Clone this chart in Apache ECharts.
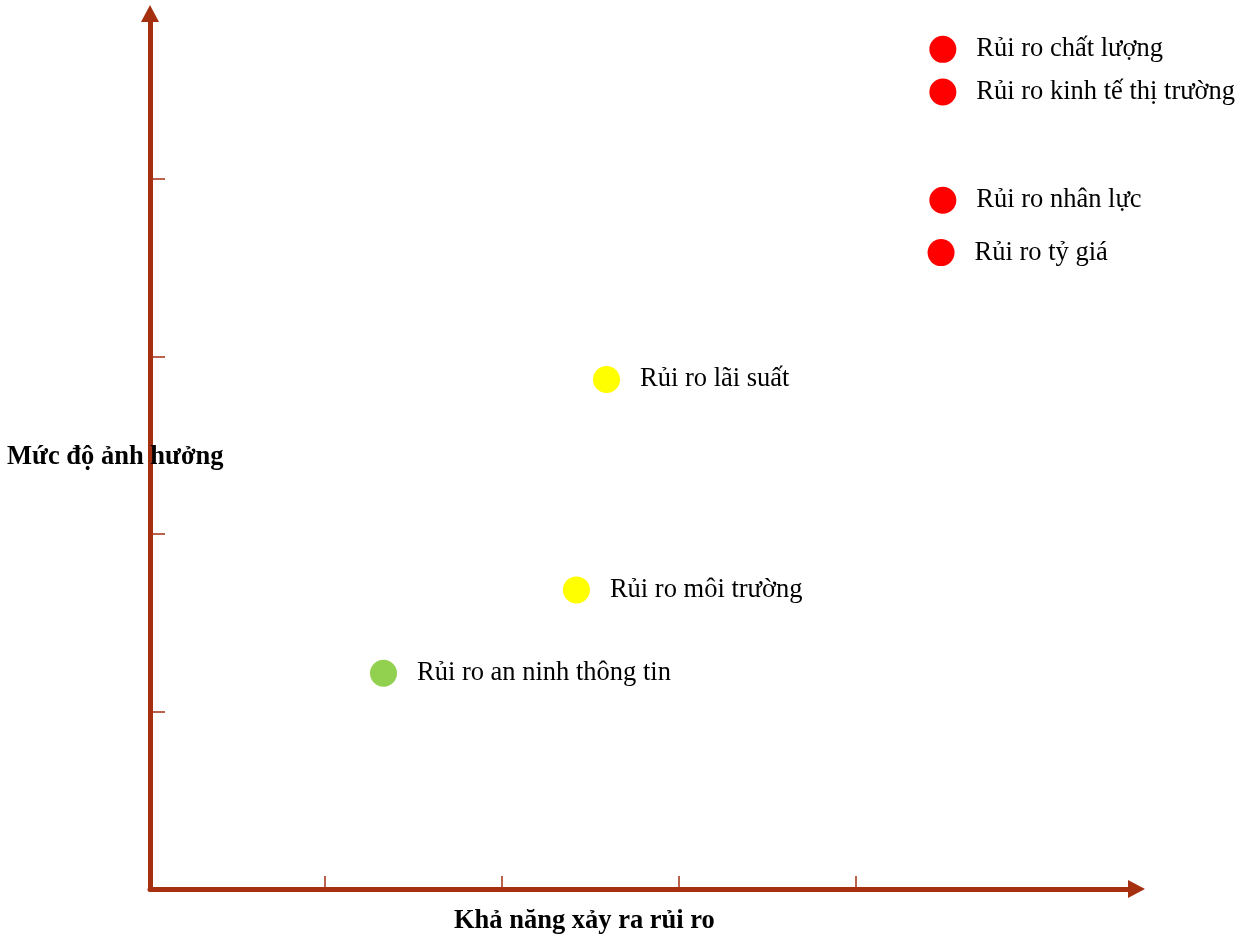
<!DOCTYPE html>
<html>
<head>
<meta charset="utf-8">
<script src="https://cdn.jsdelivr.net/npm/echarts@6/dist/echarts.min.js"></script>
<style>
html,body{margin:0;padding:0;background:#fff;}
#chart{width:1242px;height:937px;}
</style>
</head>
<body>
<div id="chart"></div>
<script>
// Data
const risks = ['Rủi ro chất lượng', 'Rủi ro kinh tế thị trường', 'Rủi ro nhân lực', 'Rủi ro tỷ giá',
               'Rủi ro lãi suất', 'Rủi ro môi trường', 'Rủi ro an ninh thông tin'];
const likelihood = [4.49, 4.49, 4.49, 4.48, 2.59, 2.42, 1.33];
const impact     = [4.73, 4.49, 3.88, 3.585, 2.87, 1.685, 1.215];
const levels     = ['high', 'high', 'high', 'high', 'medium', 'medium', 'low'];
const tickValues = [1, 2, 3, 4];
const xTitle = 'Khả năng xảy ra rủi ro';
const yTitle = 'Mức độ ảnh hưởng';

const levelColors = { high: '#FF0000', medium: '#FFFF00', low: '#92D050' };
const axisColor = '#A5300F';
const serif = '"Liberation Serif", "Times New Roman", serif';

const points = risks.map((name, i) => ({
  name: name,
  value: [likelihood[i], impact[i]],
  itemStyle: { color: levelColors[levels[i]], opacity: 1 }
}));

const chart = echarts.init(document.getElementById('chart'), null, { renderer: 'canvas' });
chart.setOption({
  backgroundColor: '#ffffff',
  animation: false,
  grid: { left: 150, right: 105.5, top: 13.5, bottom: 48, containLabel: false },
  xAxis: {
    type: 'value', min: 0.011, max: 5.584,
    splitLine: { show: false },
    axisLine: { show: true, onZero: false, lineStyle: { color: axisColor, width: 5 },
                symbol: ['none', 'triangle'], symbolSize: [18, 17] },
    axisTick: { show: true, inside: true, length: 13, customValues: tickValues,
                lineStyle: { color: axisColor, width: 1.5 } },
    axisLabel: { show: false }
  },
  yAxis: {
    type: 'value', min: 0, max: 4.932,
    splitLine: { show: false },
    axisLine: { show: true, onZero: false, lineStyle: { color: axisColor, width: 5 },
                symbol: ['none', 'triangle'], symbolSize: [18, 17] },
    axisTick: { show: true, inside: true, length: 15, customValues: tickValues,
                lineStyle: { color: axisColor, width: 1.5 } },
    axisLabel: { show: false }
  },
  graphic: [
    { type: 'text', x: 7, y: 457, z: 100,
      style: { text: yTitle, font: 'bold 26.5px ' + serif, fill: '#000', verticalAlign: 'middle' } },
    { type: 'text', x: 454, y: 921, z: 100,
      style: { text: xTitle, font: 'bold 26.5px ' + serif, fill: '#000', verticalAlign: 'middle' } }
  ],
  series: [{
    type: 'scatter',
    symbol: 'circle',
    symbolSize: 27,
    data: points,
    itemStyle: { opacity: 1 },
    label: {
      show: true, position: 'right', distance: 20,
      formatter: p => p.name,
      fontFamily: serif, fontSize: 26.5, color: '#000'
    },
    emphasis: { disabled: true }
  }]
});
</script>
</body>
</html>
